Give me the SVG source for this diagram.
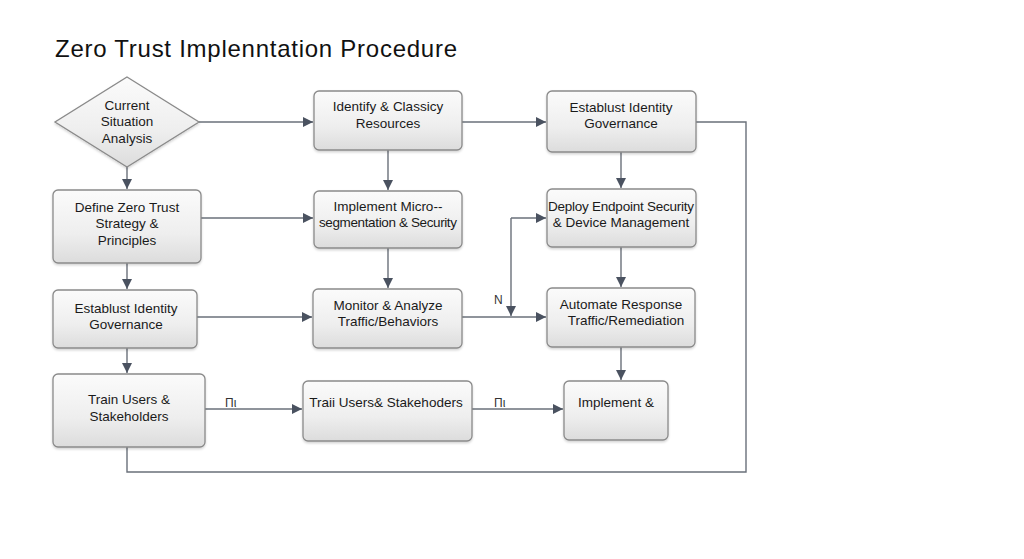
<svg xmlns="http://www.w3.org/2000/svg" width="1024" height="559" viewBox="0 0 1024 559">
<defs>
<linearGradient id="g" x1="0" y1="0" x2="0" y2="1">
<stop offset="0" stop-color="#fbfbfb"/>
<stop offset="0.6" stop-color="#eeeeee"/>
<stop offset="1" stop-color="#dcdcdc"/>
</linearGradient>
<filter id="sh" x="-10%" y="-10%" width="120%" height="130%">
<feDropShadow dx="0" dy="1.5" stdDeviation="1.2" flood-color="#000" flood-opacity="0.18"/>
</filter>
<marker id="ar" viewBox="0 0 10 10" refX="10" refY="5" markerWidth="10" markerHeight="10" markerUnits="userSpaceOnUse" orient="auto">
<path d="M0,0 L10,5 L0,10 z" fill="#4a5260"/>
</marker>
</defs>
<style>
.box{fill:url(#g);stroke:#8a8a8a;stroke-width:1.3;filter:url(#sh)}
.t{font-family:"Liberation Sans",Arial,sans-serif;font-size:13.5px;fill:#1a1a1a;text-anchor:middle;dominant-baseline:central}
.c{fill:none;stroke:#6a707a;stroke-width:1.4}
.lbl{font-family:"Liberation Sans",Arial,sans-serif;font-size:12px;fill:#333}
</style>
<rect width="1024" height="559" fill="#ffffff"/>
<text x="55" y="57" font-family="Liberation Sans,Arial,sans-serif" font-size="24" fill="#111" textLength="402">Zero Trust Implenntation Procedure</text>

<g id="connectors">
<path class="c" d="M199,122 H313" marker-end="url(#ar)"/>
<path class="c" d="M127,167 V189" marker-end="url(#ar)"/>
<path class="c" d="M201,218 H313" marker-end="url(#ar)"/>
<path class="c" d="M127,263 V289" marker-end="url(#ar)"/>
<path class="c" d="M388,150 V190" marker-end="url(#ar)"/>
<path class="c" d="M388,248 V288" marker-end="url(#ar)"/>
<path class="c" d="M197,317 H312" marker-end="url(#ar)"/>
<path class="c" d="M127,348 V373" marker-end="url(#ar)"/>
<path class="c" d="M205,409 H302" marker-end="url(#ar)"/>
<path class="c" d="M472,409 H563" marker-end="url(#ar)"/>
<path class="c" d="M462,317 H546" marker-end="url(#ar)"/>
<path class="c" d="M511,218 V316" marker-end="url(#ar)"/>
<path class="c" d="M511,218 H546" marker-end="url(#ar)"/>
<path class="c" d="M462,122 H546" marker-end="url(#ar)"/>
<path class="c" d="M621,152 V188" marker-end="url(#ar)"/>
<path class="c" d="M621,247 V287" marker-end="url(#ar)"/>
<path class="c" d="M621,347 V380" marker-end="url(#ar)"/>
<path class="c" d="M696,122 H746 V472 H127 V447"/>
<text class="lbl" x="225" y="407">Πι</text>
<text class="lbl" x="494" y="407">Πι</text>
<text class="lbl" x="494" y="304">N</text>
</g>

<g id="n-current">
<polygon class="box" points="127,77 199,122 127,167 55,122"/>
<text class="t" x="127" y="105">Current</text>
<text class="t" x="127" y="121">Situation</text>
<text class="t" x="127" y="138">Analysis</text>
</g>
<g id="n-identify">
<rect class="box" x="314" y="91" width="148" height="59" rx="5"/>
<text class="t" x="388" y="106">Identify &amp; Classicy</text>
<text class="t" x="388" y="123">Resources</text>
</g>
<g id="n-establish-top">
<rect class="box" x="547" y="91" width="149" height="61" rx="5"/>
<text class="t" x="621" y="107">Establust Identity</text>
<text class="t" x="621" y="123">Governance</text>
</g>
<g id="n-define">
<rect class="box" x="53" y="190" width="148" height="73" rx="5"/>
<text class="t" x="127" y="207">Define Zero Trust</text>
<text class="t" x="127" y="223">Strategy &amp;</text>
<text class="t" x="127" y="240">Principles</text>
</g>
<g id="n-micro">
<rect class="box" x="314" y="191" width="148" height="57" rx="5"/>
<text class="t" x="388" y="206">Implement Micro--</text>
<text class="t" x="388" y="222" textLength="138">segmentation &amp; Security</text>
</g>
<g id="n-deploy">
<rect class="box" x="547" y="189" width="149" height="58" rx="5"/>
<text class="t" x="621" y="206" textLength="146">Deploy Endpoint Security</text>
<text class="t" x="621" y="222">&amp; Device Management</text>
</g>
<g id="n-establish-left">
<rect class="box" x="53" y="290" width="144" height="58" rx="5"/>
<text class="t" x="126" y="308">Establust Identity</text>
<text class="t" x="126" y="324">Governance</text>
</g>
<g id="n-monitor">
<rect class="box" x="313" y="289" width="149" height="59" rx="5"/>
<text class="t" x="388" y="305">Monitor &amp; Analyze</text>
<text class="t" x="388" y="321">Traffic/Behaviors</text>
</g>
<g id="n-automate">
<rect class="box" x="547" y="288" width="148" height="59" rx="5"/>
<text class="t" x="621" y="304">Automate Response</text>
<text class="t" x="626" y="320">Traffic/Remediation</text>
</g>
<g id="n-train">
<rect class="box" x="53" y="374" width="152" height="73" rx="5"/>
<text class="t" x="129" y="399">Train Users &amp;</text>
<text class="t" x="129" y="416">Stakeholders</text>
</g>
<g id="n-traii">
<rect class="box" x="303" y="381" width="169" height="60" rx="5"/>
<text class="t" x="386" y="402">Traii Users&amp; Stakehoders</text>
</g>
<g id="n-implement">
<rect class="box" x="564" y="381" width="104" height="59" rx="5"/>
<text class="t" x="616" y="402">Implement &amp;</text>
</g>
</svg>
